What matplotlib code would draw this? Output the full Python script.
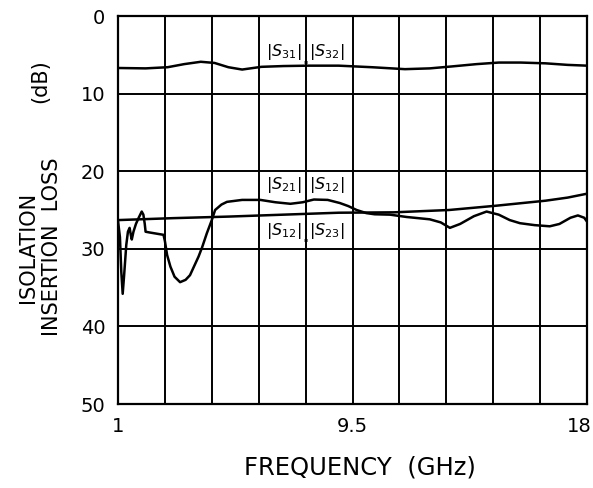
import matplotlib
matplotlib.use("Agg")
import matplotlib.pyplot as plt
from matplotlib.transforms import ScaledTranslation

plt.rcParams['font.family'] = ['DejaVu Sans']
plt.rcParams['mathtext.fontset'] = 'dejavusans'

# ---- data (frequency in GHz, loss in dB) ----
s31_f = [1.0, 2.0, 2.8, 3.4, 4.0, 4.5, 5.0, 5.5, 6.2, 7.0, 7.9, 9.0, 10.2, 11.4,
         12.3, 13.1, 14.0, 14.8, 15.6, 16.5, 17.3, 18.0]
s31_db = [6.7, 6.75, 6.6, 6.2, 5.9, 6.05, 6.6, 6.9, 6.55, 6.45, 6.4, 6.4, 6.6, 6.85,
          6.75, 6.5, 6.2, 6.0, 6.0, 6.1, 6.3, 6.4]

s12_f = [1.0, 3.0, 5.0, 7.0, 9.0, 11.0, 13.0, 14.7, 16.5, 17.3, 18.0]
s12_db = [26.3, 26.05, 25.85, 25.6, 25.35, 25.3, 25.0, 24.45, 23.8, 23.4, 22.9]

s21_f = [1.0, 1.07, 1.12, 1.17, 1.22, 1.3, 1.36, 1.42, 1.47, 1.5, 1.56, 1.65, 1.75,
         1.86, 1.92, 1.97, 2.0, 2.15, 2.4, 2.65, 2.7, 2.78, 2.9, 3.05, 3.25, 3.45,
         3.61, 3.92, 4.05, 4.22, 4.4, 4.52, 4.75, 4.95, 5.5, 6.16, 6.7, 7.25, 7.7,
         8.1, 8.6, 9.04, 9.35, 9.65, 10.0, 10.3, 10.86, 11.46, 12.3, 12.7, 13.03,
         13.4, 13.9, 14.36, 14.8, 15.2, 15.57, 16.1, 16.65, 17.0, 17.4, 17.67, 17.9, 18.0]
s21_db = [26.4, 28.5, 33.0, 35.8, 33.5, 29.5, 27.8, 27.3, 28.3, 28.8, 27.8, 26.8, 26.0,
          25.2, 25.6, 26.8, 27.8, 27.9, 28.05, 28.2, 29.0, 30.8, 32.3, 33.6, 34.3, 34.0,
          33.4, 31.0, 29.8, 28.0, 26.3, 25.0, 24.3, 23.95, 23.7, 23.7, 24.0, 24.2, 24.0,
          23.65, 23.7, 24.1, 24.5, 25.0, 25.4, 25.55, 25.6, 25.9, 26.2, 26.6, 27.3,
          26.8, 25.8, 25.2, 25.6, 26.3, 26.7, 26.95, 27.1, 26.8, 26.0, 25.7, 26.0, 26.5]

x_ticks = [1, 9.5, 18]
x_tick_labels = ["1", "9.5", "18"]
x_grid = [2.7, 4.4, 6.1, 7.8, 11.2, 12.9, 14.6, 16.3]
y_ticks = [0, 10, 20, 30, 40, 50]
y_tick_labels = ["0", "10", "20", "30", "40", "50"]

W, H = 593, 488
fig = plt.figure(figsize=(W / 100, H / 100), dpi=100)
ax = fig.add_axes([118 / W, 1 - 404 / H, (587 - 118) / W, (404 - 16) / H])

ax.set_xlim(1, 18)
ax.set_ylim(50, 0)
ax.set_xticks(x_ticks)
ax.set_xticklabels(x_tick_labels)
ax.set_xticks(x_grid, minor=True)
ax.set_yticks(y_ticks)
ax.set_yticklabels(y_tick_labels)
ax.tick_params(which='both', length=0, labelsize=14)
ax.tick_params(axis='x', pad=9)
ax.tick_params(axis='y', pad=9)
ax.grid(True, which='both', color='black', linewidth=1.4)
for sp in ax.spines.values():
    sp.set_linewidth(1.6)
    sp.set_color('black')

# nudge the last x tick label inward so it stays inside the picture
last = ax.get_xticklabels()[-1]
last.set_transform(last.get_transform() + ScaledTranslation(-8 / 100, 0, fig.dpi_scale_trans))

lc = dict(color='black', linewidth=1.8, solid_joinstyle='round')
ax.plot(s31_f, s31_db, **lc)
ax.plot(s12_f, s12_db, **lc)
ax.plot(s21_f, s21_db, **lc)

# curve labels
fs = 11.5
ax.text(7.66, 4.6, r'$|S_{31}|$', ha='right', va='center', fontsize=fs)
ax.text(7.8, 5.6, '.', ha='center', va='center', fontsize=fs, fontweight='bold')
ax.text(7.94, 4.6, r'$|S_{32}|$', ha='left', va='center', fontsize=fs)

ax.text(7.66, 21.8, r'$|S_{21}|$', ha='right', va='center', fontsize=fs)
ax.text(7.94, 21.8, r'$|S_{12}|$', ha='left', va='center', fontsize=fs)

ax.text(7.66, 27.7, r'$|S_{12}|$', ha='right', va='center', fontsize=fs)
ax.text(7.8, 28.6, '.', ha='center', va='center', fontsize=fs, fontweight='bold')
ax.text(7.94, 27.7, r'$|S_{23}|$', ha='left', va='center', fontsize=fs)

# axis titles
fig.text(360 / W, 1 - 467 / H, "FREQUENCY  (GHz)", ha='center', va='center', fontsize=17.5)
fig.text(28 / W, 1 - 247 / H, "ISOLATION", ha='center', va='center', rotation=90, fontsize=15)
fig.text(52 / W, 1 - 247 / H, "INSERTION  LOSS", ha='center', va='center', rotation=90, fontsize=15)
fig.text(40 / W, 1 - 81 / H, "(dB)", ha='center', va='center', rotation=90, fontsize=15)

fig.savefig("out.png", dpi=100, facecolor='white')
